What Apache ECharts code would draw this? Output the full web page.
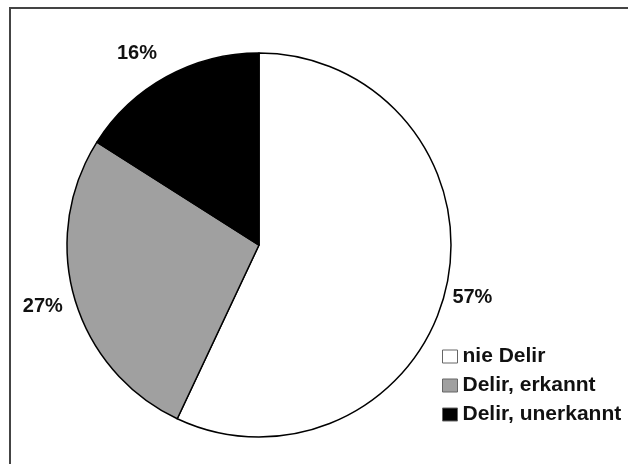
<!DOCTYPE html>
<html>
<head>
<meta charset="utf-8">
<script src="https://cdn.jsdelivr.net/npm/echarts@6/dist/echarts.min.js"></script>
<style>
  html, body { margin: 0; padding: 0; background: #fff; }
  #chart { width: 628px; height: 464px; }
</style>
</head>
<body>
<div id="chart"></div>
<script>
var categories = ['nie Delir', 'Delir, erkannt', 'Delir, unerkannt'];
var values = [57, 27, 16];
var colors = ['#ffffff', '#a0a0a0', '#000000'];
// per-slice distance of the percent label from the rim, plus small nudges
var labelOffsets = [0, 6, 26];
var labelNudgeX = [0, 0, 9];
var labelNudgeY = [11, 6, 0];

var pieData = categories.map(function (name, i) {
    return {
        name: name,
        value: values[i],
        itemStyle: { color: colors[i] },
        labelLine: { show: false, length: labelOffsets[i], length2: 0 }
    };
});

var option = {
    animation: false,
    backgroundColor: '#ffffff',
    graphic: [
        {
            type: 'rect',
            shape: { x: 10, y: 8, width: 700, height: 600 },
            style: { fill: 'none', stroke: '#444', lineWidth: 2 }
        }
    ],
    legend: {
        orient: 'vertical',
        left: 437,
        top: 341,
        itemWidth: 15,
        itemHeight: 13,
        itemGap: 8,
        icon: 'rect',
        textStyle: {
            fontFamily: 'Liberation Sans, Arial, sans-serif',
            fontWeight: 'bold',
            fontSize: 21,
            color: '#111'
        },
        itemStyle: { borderColor: '#666', borderWidth: 1 },
        data: categories
    },
    series: [
        {
            type: 'pie',
            center: [259, 245],
            radius: 192,
            startAngle: 90,
            clockwise: true,
            silent: true,
            itemStyle: { borderColor: '#000', borderWidth: 1.5 },
            label: {
                show: true,
                position: 'outside',
                distanceToLabelLine: 6,
                formatter: '{c}%',
                fontFamily: 'Liberation Sans, Arial, sans-serif',
                fontWeight: 'bold',
                fontSize: 20,
                color: '#111'
            },
            labelLayout: function (params) {
                return { dx: labelNudgeX[params.dataIndex], dy: labelNudgeY[params.dataIndex] };
            },
            data: pieData
        }
    ]
};

var chart = echarts.init(document.getElementById('chart'));
chart.setOption(option);
</script>
</body>
</html>
